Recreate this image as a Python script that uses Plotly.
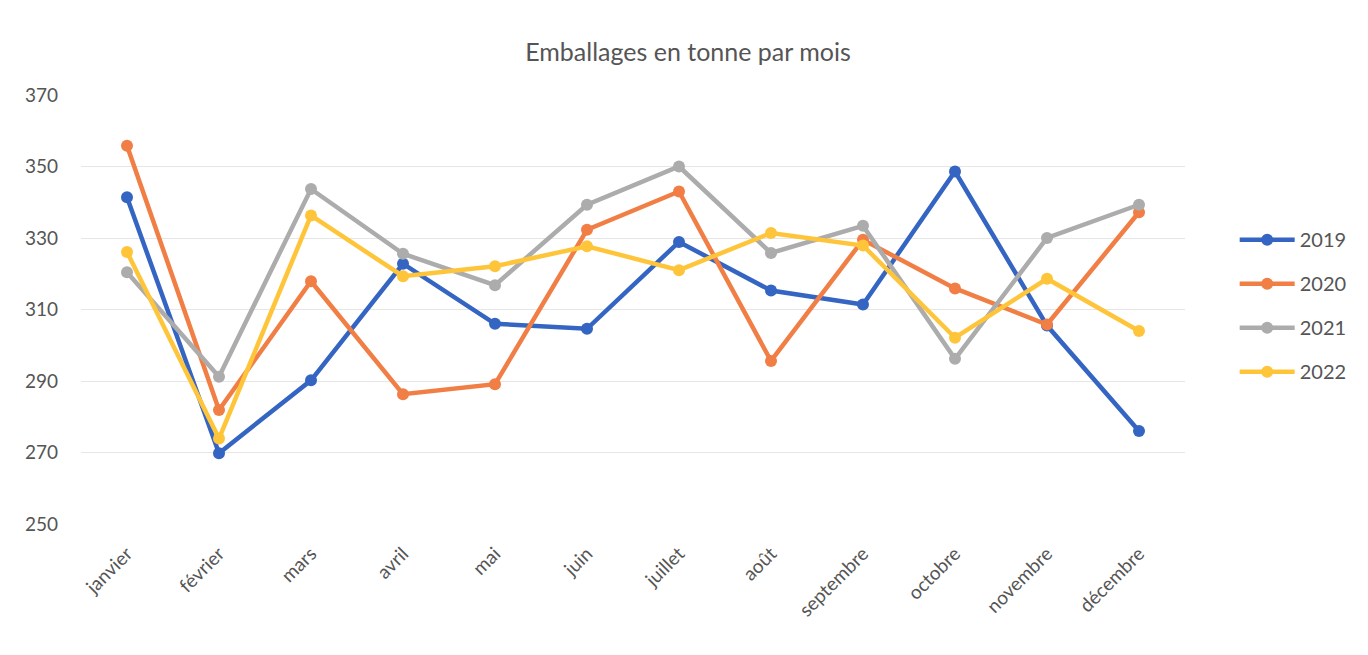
import plotly.graph_objects as go

months = ["janvier", "février", "mars", "avril", "mai", "juin", "juillet",
          "août", "septembre", "octobre", "novembre", "décembre"]
y2019 = [341.4, 269.8, 290.2, 322.8, 306.0, 304.6, 328.9, 315.3, 311.4, 348.6, 305.5, 276.0]
y2020 = [355.8, 281.9, 317.9, 286.3, 289.1, 332.3, 343.0, 295.6, 329.5, 315.9, 305.8, 337.2]
y2021 = [320.4, 291.2, 343.7, 325.6, 316.8, 339.3, 350.0, 325.8, 333.4, 296.2, 330.0, 339.3]
y2022 = [326.1, 273.9, 336.3, 319.3, 322.1, 327.7, 321.0, 331.4, 327.9, 302.1, 318.6, 304.0]
series_names = ["2019", "2020", "2021", "2022"]
series_values = [y2019, y2020, y2021, y2022]
colors = ["#3565C2", "#F07E45", "#ACACAC", "#FFC53A"]
y_ticks = [250, 270, 290, 310, 330, 350, 370]

fig = go.Figure()
for name, vals, col in zip(series_names, series_values, colors):
    fig.add_trace(go.Scatter(
        x=months, y=vals, name=name, mode="lines+markers",
        line=dict(color=col, width=4.5),
        marker=dict(color=col, size=12),
        legendgroup=name,
    ))

font_family = "Lato, 'Open Sans', sans-serif"
W, H = 1360, 647
fig.update_layout(
    width=W, height=H,
    paper_bgcolor="white", plot_bgcolor="white",
    margin=dict(l=73, r=183, t=87, b=131),
    title=dict(text="Emballages en tonne par mois", x=0.5, xanchor="center",
               y=1 - 44 / H, yanchor="middle",
               font=dict(family=font_family, size=25, color="#555555")),
    font=dict(family=font_family, color="#555555", size=19),
    showlegend=True,
    legend=dict(x=1.045, y=0.509, xanchor="left", yanchor="middle",
                font=dict(size=20, color="#555555"), itemwidth=55,
                tracegroupgap=15, bgcolor="rgba(0,0,0,0)"),
    xaxis=dict(type="category", range=[-0.5, 11.5], tickangle=-45,
               showgrid=False, showline=False, ticks="", zeroline=False,
               ticklabelstandoff=14,
               tickfont=dict(size=19, color="#555555")),
    yaxis=dict(range=[250, 370], tickvals=y_ticks, showgrid=True,
               gridcolor="#E6E6E6", gridwidth=1, zeroline=False,
               showline=False, ticks="", ticklabelstandoff=22,
               tickfont=dict(size=19, color="#555555")),
)
fig.write_html("out.html")
